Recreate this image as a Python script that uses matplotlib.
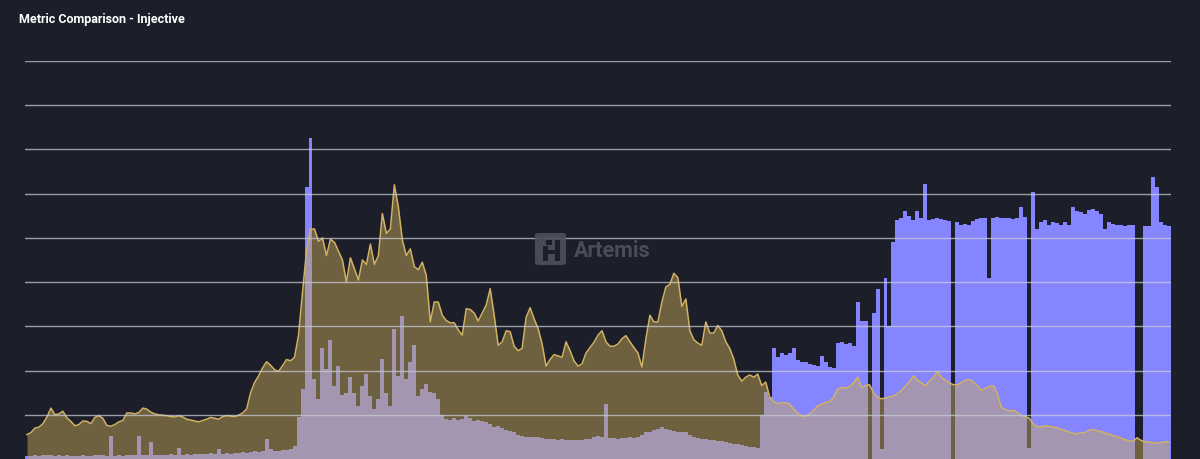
import matplotlib
matplotlib.use("Agg")
import matplotlib.pyplot as plt
from matplotlib.patches import FancyBboxPatch, Rectangle
import numpy as np

# ---------------- data (arbitrary units, 1 unit = 1 gridline) -------------
title = "Metric Comparison - Injective"
watermark = "Artemis"

gold_metric = [
    0.55, 0.60, 0.70, 0.72, 0.80, 0.95, 1.15, 1.00, 1.02, 1.08,
    0.93, 0.85, 0.75, 0.78, 0.86, 0.85, 0.80, 0.94, 0.98, 0.92,
    0.76, 0.74, 0.78, 0.84, 0.87, 1.04, 1.04, 1.02, 1.05, 1.15,
    1.13, 1.06, 1.02, 1.00, 0.99, 0.98, 0.96, 0.95, 0.98, 0.95,
    0.90, 0.88, 0.86, 0.84, 0.87, 0.90, 0.94, 0.92, 0.90, 0.96,
    0.98, 0.97, 0.96, 0.99, 1.04, 1.13, 1.50, 1.73, 1.88, 2.06,
    2.20, 2.12, 2.02, 1.98, 2.11, 2.25, 2.22, 2.30, 2.80, 3.77,
    4.70, 5.20, 5.20, 4.92, 5.00, 4.60, 4.97, 4.90, 4.70, 4.50,
    4.00, 4.55, 4.30, 4.05, 4.50, 4.40, 4.86, 4.40, 4.60, 5.55,
    5.10, 5.20, 6.20, 5.70, 4.95, 4.60, 4.75, 4.35, 4.28, 4.45,
    4.15, 3.10, 3.55, 3.55, 3.25, 3.13, 3.08, 3.08, 2.92, 2.80,
    3.40, 3.38, 3.30, 3.12, 3.30, 3.48, 3.85, 3.25, 2.57, 2.65,
    2.90, 2.88, 2.55, 2.45, 2.50, 3.20, 3.42, 3.17, 2.95, 2.60,
    2.10, 2.25, 2.36, 2.33, 2.30, 2.65, 2.45, 2.22, 2.10, 2.15,
    2.40, 2.52, 2.64, 2.80, 2.90, 2.65, 2.55, 2.55, 2.60, 2.72,
    2.79, 2.65, 2.52, 2.40, 2.08, 2.72, 3.25, 3.10, 3.10, 3.55,
    3.89, 3.95, 4.20, 4.10, 3.45, 3.62, 2.90, 2.70, 2.62, 2.57,
    3.10, 2.85, 2.85, 3.02, 2.90, 2.65, 2.50, 2.26, 1.90, 1.76,
    1.85, 1.90, 1.85, 1.92, 1.66, 1.74, 1.40, 1.30, 1.25, 1.27,
    1.27, 1.24, 1.13, 1.04, 0.98, 0.96, 1.02, 1.10, 1.20, 1.24,
    1.28, 1.30, 1.40, 1.58, 1.62, 1.60, 1.64, 1.72, 1.85, 1.62,
    1.66, 1.68, 1.50, 1.40, 1.36, 1.38, 1.40, 1.42, 1.48, 1.55,
    1.65, 1.75, 1.88, 1.78, 1.72, 1.66, 1.76, 1.85, 1.98, 1.85,
    1.78, 1.72, 1.68, 1.68, 1.72, 1.78, 1.80, 1.74, 1.66, 1.55,
    1.60, 1.64, 1.66, 1.48, 1.17, 1.12, 1.09, 1.10, 1.05, 0.98,
    0.96, 0.92, 0.79, 0.73, 0.73, 0.75, 0.74, 0.72, 0.70, 0.67,
    0.64, 0.61, 0.58, 0.57, 0.59, 0.60, 0.65, 0.67, 0.64, 0.62,
    0.59, 0.56, 0.53, 0.50, 0.47, 0.44, 0.41, 0.40, 0.48, 0.42,
    0.39, 0.38, 0.37, 0.36, 0.37, 0.39, 0.38,
]

blue_metric = [
    0.06, 0.07, 0.08, 0.07, 0.08, 0.09, 0.08, 0.07, 0.08, 0.07,
    0.08, 0.07, 0.06, 0.07, 0.08, 0.07, 0.07, 0.08, 0.09, 0.08,
    0.07, 0.53, 0.07, 0.08, 0.07, 0.08, 0.09, 0.08, 0.51, 0.09,
    0.08, 0.38, 0.09, 0.10, 0.09, 0.10, 0.11, 0.10, 0.26, 0.10,
    0.11, 0.10, 0.11, 0.12, 0.11, 0.12, 0.13, 0.12, 0.23, 0.12,
    0.13, 0.12, 0.13, 0.14, 0.15, 0.14, 0.16, 0.17, 0.16, 0.18,
    0.45, 0.22, 0.18, 0.19, 0.20, 0.20, 0.22, 0.30, 0.95, 1.58,
    6.15, 7.27, 1.81, 1.36, 2.52, 2.03, 2.68, 1.66, 2.11, 1.45,
    1.50, 1.85, 1.50, 1.20, 1.66, 1.92, 1.43, 1.13, 1.36, 2.26,
    1.50, 1.20, 2.94, 1.88, 3.24, 1.81, 2.20, 2.57, 1.43, 1.58,
    1.70, 1.51, 1.50, 1.36, 1.00, 0.90, 0.88, 0.92, 0.88, 0.90,
    0.98, 0.92, 0.87, 0.88, 0.85, 0.83, 0.80, 0.72, 0.75, 0.70,
    0.66, 0.64, 0.60, 0.55, 0.53, 0.50, 0.49, 0.50, 0.49, 0.48,
    0.46, 0.45, 0.45, 0.44, 0.45, 0.44, 0.43, 0.42, 0.43, 0.44,
    0.45, 0.46, 0.50, 0.53, 0.50, 1.24, 0.47, 0.47, 0.46, 0.47,
    0.48, 0.50, 0.48, 0.50, 0.55, 0.60, 0.62, 0.65, 0.68, 0.72,
    0.68, 0.65, 0.64, 0.62, 0.60, 0.60, 0.55, 0.50, 0.48, 0.46,
    0.45, 0.43, 0.42, 0.41, 0.40, 0.38, 0.36, 0.34, 0.33, 0.31,
    0.30, 0.28, 0.27, 0.26, 1.00, 1.51, 1.40, 2.50, 2.30, 2.40,
    2.35, 2.40, 2.50, 2.23, 2.19, 2.20, 2.15, 2.12, 2.11, 2.34,
    2.20, 2.08, 2.06, 2.62, 2.64, 2.60, 2.62, 2.55, 3.55, 3.13,
    3.12, 0.00, 3.30, 3.84, 0.23, 4.10, 3.00, 4.90, 5.40, 5.45,
    5.60, 5.50, 5.40, 5.60, 5.45, 6.22, 5.40, 5.43, 5.45, 5.42,
    5.40, 5.38, 0.00, 5.35, 5.30, 5.32, 5.30, 5.38, 5.42, 5.46,
    5.45, 4.10, 5.46, 5.47, 5.45, 5.44, 5.46, 5.43, 5.45, 5.69,
    5.48, 0.26, 6.03, 5.20, 5.35, 5.40, 5.30, 5.35, 5.33, 5.30,
    5.36, 5.30, 5.70, 5.60, 5.58, 5.55, 5.62, 5.65, 5.60, 5.55,
    5.20, 5.35, 5.32, 5.30, 5.30, 5.28, 5.30, 5.30, 0.00, 0.00,
    5.27, 5.28, 6.37, 6.14, 5.35, 5.30, 5.27,
]

grid_levels = [1, 2, 3, 4, 5, 6, 7, 8, 9]

# ---------------- style ----------------
BG = "#1c1f2a"
GOLD_LINE = "#d2b262"
GOLD_FILL = (200 / 255, 170 / 255, 90 / 255)
BLUE = "#8585ff"
GRID = "#c8cad2"
WM = "#4d505b"

W, H = 1200, 460
fig = plt.figure(figsize=(W / 100, H / 100), dpi=100, facecolor=BG)


def fx(px):
    return px / W


def fy(py):
    return 1 - py / H


ax = fig.add_axes([fx(25), 0.0, fx(1171) - fx(25), fy(62)])
ax.set_facecolor(BG)

n = len(gold_metric)
x = np.arange(n)
ax.bar(x, blue_metric, width=1.0, color=BLUE, linewidth=0, zorder=1)
ax.fill_between(x, gold_metric, 0, color=GOLD_FILL, alpha=0.48, linewidth=0, zorder=2)
ax.plot(x, gold_metric, color=GOLD_LINE, lw=1.1, zorder=3)

for g in grid_levels:
    ax.axhline(g, color=GRID, lw=1.0, alpha=0.75, zorder=4)

ax.set_xlim(-0.5, n - 0.5)
ax.set_ylim(0, 9)
for s in ax.spines.values():
    s.set_visible(False)
ax.set_xticks([])
ax.set_yticks([])

# title
fig.text(fx(19), fy(20), title, color="white", fontsize=9.0,
         fontweight="bold", family=["Roboto", "DejaVu Sans"], va="center", ha="left")

# watermark logo
logo = FancyBboxPatch((fx(535), fy(266)), fx(31), 32 / H,
                      boxstyle="round,pad=0,rounding_size=0.004",
                      transform=fig.transFigure, facecolor=WM, edgecolor="none",
                      alpha=0.9, zorder=5)
fig.patches.append(logo)
for (x0, y0, w, h) in [(543, 247, 5, 15), (555, 241, 5, 21), (546, 241, 6, 5), (548, 251, 8, 4)]:
    fig.patches.append(Rectangle((fx(x0), fy(y0 + h)), fx(w), h / H,
                                 transform=fig.transFigure, facecolor=BG,
                                 edgecolor="none", zorder=6))
fig.text(fx(574), fy(251), watermark, color=WM, fontsize=15.5, fontweight="bold",
         family=["Roboto", "DejaVu Sans"], va="center", ha="left", alpha=0.95, zorder=6)

fig.savefig("out.png", dpi=100, facecolor=BG)
